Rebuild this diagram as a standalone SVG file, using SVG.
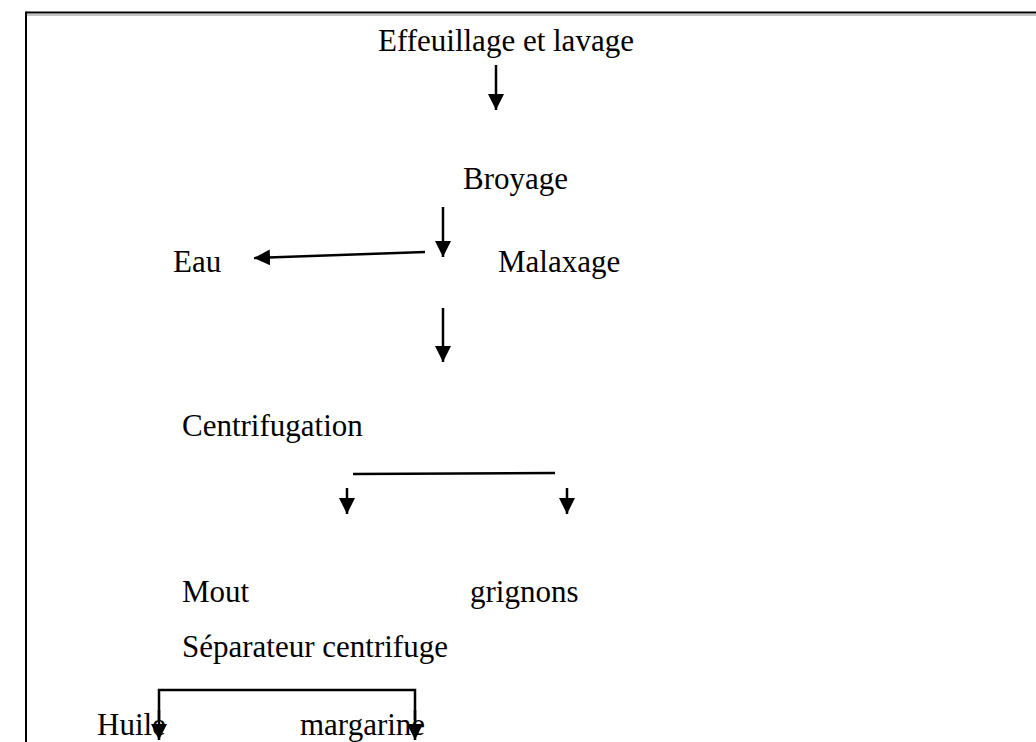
<svg xmlns="http://www.w3.org/2000/svg" width="1036" height="742" viewBox="0 0 1036 742">
<style>
text{font-family:"Liberation Serif","Times New Roman",serif;font-size:31px;fill:#000}
.c{stroke:#000;stroke-width:2.5;fill:none}
</style>
<defs>
<marker id="ah" markerUnits="userSpaceOnUse" markerWidth="16" markerHeight="16" refX="16" refY="8" orient="auto" viewBox="0 0 16 16">
<path d="M0,0 L16,8 L0,16 Z" fill="#000"/>
</marker>
</defs>
<rect width="1036" height="742" fill="#fff"/>
<g id="frame">
<line x1="26" y1="12.5" x2="1036" y2="12.5" stroke="#000" stroke-width="2"/>
<line x1="26" y1="15" x2="1036" y2="15" stroke="#888" stroke-width="1"/>
<line x1="26" y1="11.5" x2="26" y2="742" stroke="#000" stroke-width="2"/>
</g>
<g id="n1"><text x="378" y="51">Effeuillage et lavage</text></g>
<g id="n2"><text x="463" y="189">Broyage</text></g>
<g id="n3"><text x="173" y="272">Eau</text></g>
<g id="n4"><text x="498" y="272">Malaxage</text></g>
<g id="n5"><text x="182" y="436">Centrifugation</text></g>
<g id="n6"><text x="182" y="602">Mout</text></g>
<g id="n7"><text x="470" y="602">grignons</text></g>
<g id="n8"><text x="182" y="657">Séparateur centrifuge</text></g>
<g id="n9"><text x="97" y="735">Huile</text></g>
<g id="n10"><text x="300" y="735">margarine</text></g>
<g id="connectors">
<line class="c" x1="496" y1="65" x2="496" y2="110" marker-end="url(#ah)"/>
<line class="c" x1="443" y1="207" x2="443" y2="257" marker-end="url(#ah)"/>
<line class="c" x1="425" y1="252" x2="254" y2="258" marker-end="url(#ah)"/>
<line class="c" x1="443" y1="308" x2="443" y2="362" marker-end="url(#ah)"/>
<line class="c" x1="353" y1="474" x2="555" y2="473"/>
<line class="c" x1="347" y1="488" x2="347" y2="514" marker-end="url(#ah)"/>
<line class="c" x1="567" y1="488" x2="567" y2="514" marker-end="url(#ah)"/>
<path class="c" d="M159,720 L159,690 L415,690 L415,720"/>
<line class="c" x1="159" y1="710" x2="159" y2="740" marker-end="url(#ah)"/>
<line class="c" x1="415" y1="710" x2="415" y2="740" marker-end="url(#ah)"/>
</g>
</svg>
